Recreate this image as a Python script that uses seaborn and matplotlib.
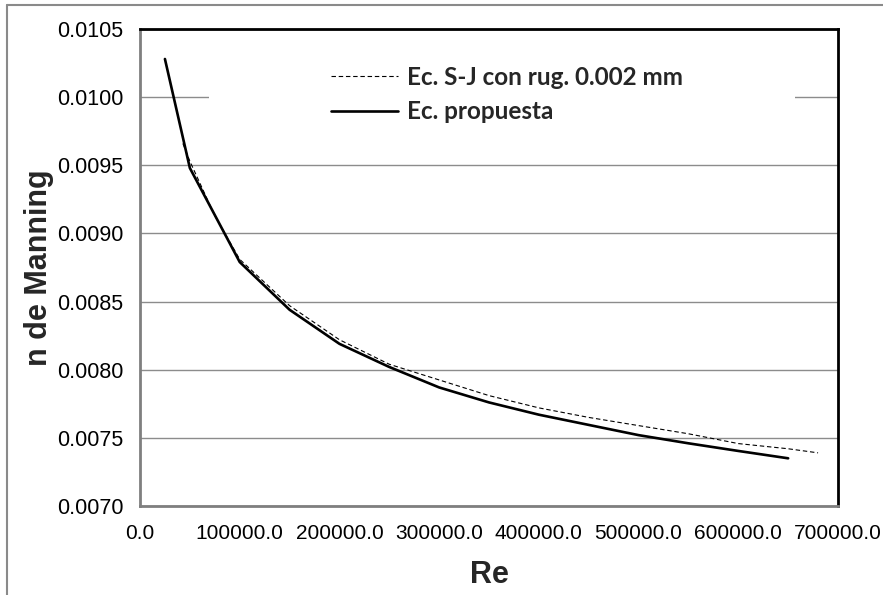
import numpy as np
import pandas as pd
import matplotlib
matplotlib.use("Agg")
import matplotlib.pyplot as plt
import seaborn as sns
from matplotlib.lines import Line2D
from matplotlib.patches import Rectangle
from matplotlib.ticker import FormatStrFormatter, MultipleLocator


# Ec. propuesta
re_prop = [25000, 50000, 100000, 150000, 200000, 250000, 300000,
           350000, 400000, 450000, 500000, 550000, 600000, 650000]
n_prop = [0.01028, 0.00948, 0.00879, 0.00844, 0.00819, 0.00802, 0.00787,
          0.00776, 0.00767, 0.007595, 0.00752, 0.00746, 0.007404, 0.00735]

# Ec. S-J con rug. 0.002 mm
re_sj = [43000, 50000, 75000, 100000, 150000, 200000, 250000, 300000,
         350000, 400000, 450000, 500000, 550000, 600000, 650000, 680000]
n_sj = [0.00966, 0.00953, 0.00913, 0.00881, 0.00847, 0.00822, 0.00804, 0.007925,
        0.00781, 0.00772, 0.00765, 0.00759, 0.00753, 0.007458, 0.00742, 0.00739]

label_sj = "Ec. S-J con rug. 0.002 mm"
label_prop = "Ec. propuesta"


def main():
    sns.set_style("white")
    plt.rcParams['font.family'] = ['Liberation Sans', 'DejaVu Sans']

    df_sj = pd.DataFrame({'Re': re_sj, 'n': n_sj})
    df_prop = pd.DataFrame({'Re': re_prop, 'n': n_prop})

    fig = plt.figure(figsize=(8.83, 5.95), dpi=100)
    ax = fig.add_axes([140 / 883, 1 - 506 / 595, 698 / 883, 477 / 595])

    # outer gray frame (cut at the right and bottom)
    fig.add_artist(Line2D([7 / 883, 1.0], [1 - 4.5 / 595] * 2, transform=fig.transFigure,
                          color='#8a8a8a', lw=1.5))
    fig.add_artist(Line2D([7 / 883] * 2, [0.0, 1 - 4.5 / 595], transform=fig.transFigure,
                          color='#8a8a8a', lw=1.5))

    sns.lineplot(data=df_sj, x='Re', y='n', ax=ax, color='black', lw=0.8,
                 linestyle=(0, (4, 2.5)), label=label_sj, zorder=4)
    sns.lineplot(data=df_prop, x='Re', y='n', ax=ax, color='black', lw=1.9,
                 label=label_prop, zorder=5)

    ax.set_xlim(0, 700000)
    ax.set_ylim(0.0070, 0.0105)
    ax.xaxis.set_major_locator(MultipleLocator(100000))
    ax.yaxis.set_major_locator(MultipleLocator(0.0005))
    ax.xaxis.set_major_formatter(FormatStrFormatter('%.1f'))
    ax.yaxis.set_major_formatter(FormatStrFormatter('%.4f'))

    ax.grid(axis='y', color='#8c8c8c', lw=1.0)
    ax.set_axisbelow(True)

    for side in ['top', 'right']:
        ax.spines[side].set_color('black')
        ax.spines[side].set_linewidth(2.0)
    for side in ['left', 'bottom']:
        ax.spines[side].set_color('#7f7f7f')
        ax.spines[side].set_linewidth(2.0)
    for s in ax.spines.values():
        s.set_zorder(6)

    ax.tick_params(axis='both', direction='out', length=5, width=1, color='#8c8c8c',
                   labelsize=15.5, labelcolor='black', pad=7)
    ax.tick_params(axis='x', labelsize=15, pad=8)

    ax.set_xlabel('Re', fontsize=22, fontweight='bold', labelpad=12)
    ax.set_ylabel('n de Manning', fontsize=22, fontweight='bold', labelpad=2)

    # white box behind the legend hides the gridline
    ax.add_patch(Rectangle((0.099, 0.80), 0.839, 0.17, transform=ax.transAxes,
                           facecolor='white', edgecolor='none', zorder=2))

    ax.legend(loc='upper left', bbox_to_anchor=((331 - 140) / 698, (506 - 66) / 477),
              frameon=False, borderpad=0, borderaxespad=0, handlelength=2.75,
              handletextpad=0.38, labelspacing=0.46,
              prop={'family': 'Lato', 'weight': 'bold', 'size': 17.5})

    fig.savefig('out.png', dpi=100)


if __name__ == "__main__":
    main()
